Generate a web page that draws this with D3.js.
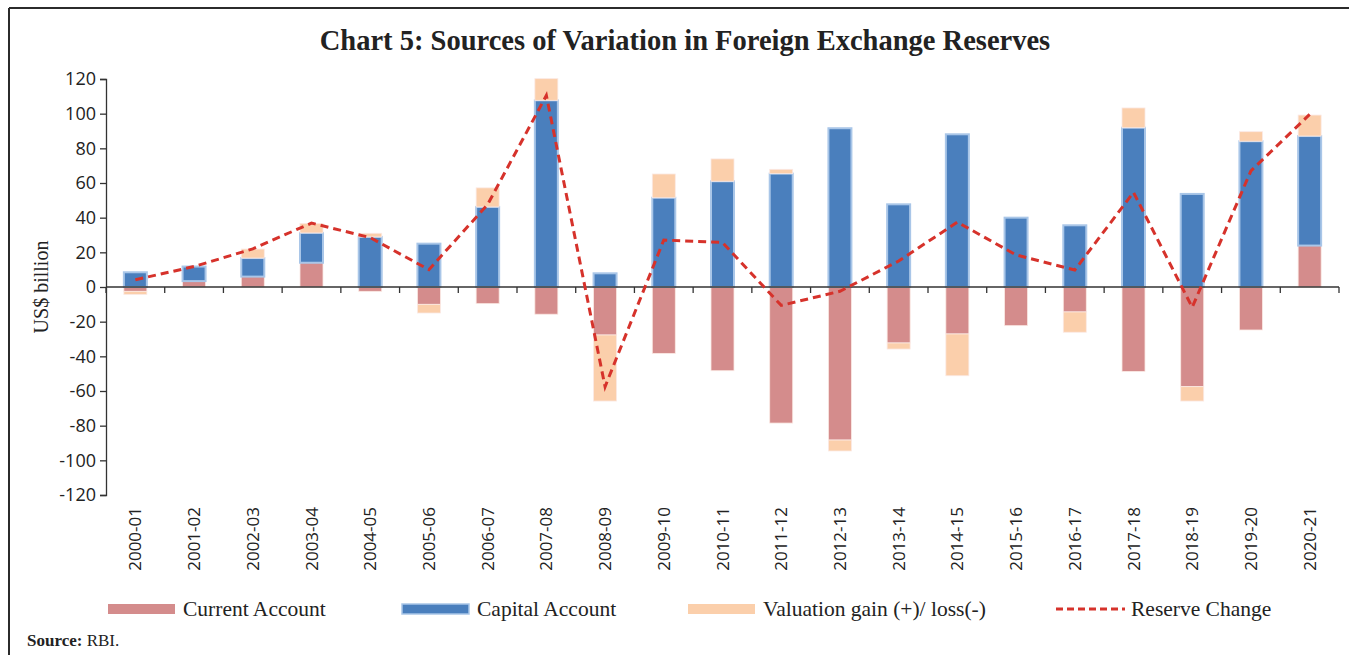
<!DOCTYPE html>
<html>
<head>
<meta charset="utf-8">
<script src="https://cdn.jsdelivr.net/npm/d3@7"></script>
<style>
  html, body { margin: 0; padding: 0; background: #fff; overflow: hidden; }
  svg { display: block; }
</style>
</head>
<body>
<div id="chart"></div>
<script>
// Chart 5: Sources of Variation in Foreign Exchange Reserves (US$ billion)
const years = ["2000-01", "2001-02", "2002-03", "2003-04", "2004-05", "2005-06", "2006-07",
    "2007-08", "2008-09", "2009-10", "2010-11", "2011-12", "2012-13", "2013-14", "2014-15",
    "2015-16", "2016-17", "2017-18", "2018-19", "2019-20", "2020-21"];
const currentAccount = [-2.5, 3.4, 6.0, 14.0, -2.5, -10.0, -9.6, -15.7, -27.7, -38.3, -48.3,
    -78.5, -88.3, -32.3, -27.1, -22.3, -14.4, -48.7, -57.5, -24.8, 23.9];
const capitalAccount = [8.5, 8.4, 10.7, 17.2, 28.9, 25.0, 46.2, 107.7, 7.9, 51.5, 61.0,
    65.4, 91.6, 47.7, 88.1, 40.0, 35.6, 91.9, 53.7, 84.1, 63.2];
const valuation = [-1.8, 0.0, 5.2, 5.5, 2.1, -5.0, 11.0, 12.5, -38.1, 13.7, 12.9,
    2.5, -6.3, -3.5, -24.1, 0.0, -11.7, 11.4, -8.3, 5.5, 12.1];
const reserveChange = [4.2, 11.8, 22.0, 36.9, 28.5, 10.0, 47.6, 110.5, -57.5, 27.1, 25.7,
    -10.6, -2.5, 15.0, 37.4, 18.5, 9.8, 54.6, -11.7, 67.0, 99.6];
const yTicks = [-120, -100, -80, -60, -40, -20, 0, 20, 40, 60, 80, 100, 120];

const width = 1349, height = 655;
const margin = { top: 79, right: 10, bottom: 160, left: 106 };
const innerWidth = 1339 - margin.left;
const innerHeight = 495 - margin.top;

const svg = d3.select("#chart").append("svg")
    .attr("width", width)
    .attr("height", height);

// frame lines (top + left)
svg.append("line").attr("x1", 9).attr("x2", width).attr("y1", 8).attr("y2", 8)
    .attr("stroke", "#2b2b2b").attr("stroke-width", 2);
svg.append("line").attr("x1", 9).attr("x2", 9).attr("y1", 8).attr("y2", height)
    .attr("stroke", "#2b2b2b").attr("stroke-width", 2);

// Title
svg.append("text")
    .attr("x", 685)
    .attr("y", 50)
    .attr("text-anchor", "middle")
    .attr("font-family", "'Liberation Serif', 'DejaVu Serif', serif")
    .attr("font-size", "28.5px")
    .attr("font-weight", "bold")
    .attr("fill", "#222")
    .text("Chart 5: Sources of Variation in Foreign Exchange Reserves");

const chart = svg.append("g")
    .attr("transform", `translate(${margin.left}, ${margin.top})`);

const x = d3.scaleBand().domain(years).range([0, innerWidth]).padding(0);
const y = d3.scaleLinear().domain([-120, 120]).range([innerHeight, 0]);

const keys = ["ca", "cap", "val"];
const color = d3.scaleOrdinal()
    .domain(keys)
    .range(["#d48c8c", "#4a7fbd", "#fbcfab"]);

const table = years.map((yr, i) => ({
    year: yr, ca: currentAccount[i], cap: capitalAccount[i], val: valuation[i]
}));
const stacked = d3.stack().keys(keys).offset(d3.stackOffsetDiverging)(table);

const barW = 23;

// Y axis (plain hyphen for negatives, like the original)
const yAxisG = chart.append("g")
    .call(d3.axisLeft(y).tickValues(yTicks).tickFormat(d => String(d)).tickSize(6).tickPadding(4));
yAxisG.select(".domain").attr("stroke", "#333").attr("stroke-width", 1.3);
yAxisG.selectAll(".tick line").attr("stroke", "#333").attr("stroke-width", 1.3);
yAxisG.selectAll(".tick text")
    .attr("font-family", "'Open Sans', sans-serif")
    .attr("font-size", "18px")
    .attr("fill", "#222");

// Bars
chart.append("g").selectAll("g")
    .data(stacked)
    .join("g")
    .attr("fill", d => color(d.key))
    .each(function (series) {
        d3.select(this).selectAll("rect")
            .data(series.filter(d => d[1] !== d[0]))
            .join("rect")
            .attr("x", d => x(d.data.year) + x.bandwidth() / 2 - barW / 2)
            .attr("y", d => y(Math.max(d[0], d[1])))
            .attr("width", barW)
            .attr("height", d => Math.abs(y(d[0]) - y(d[1])))
            .attr("stroke", series.key === "cap" ? "#a9c6e8" : "#fbe9e4")
            .attr("stroke-width", series.key === "cap" ? 2 : 0.8);
    });

// X axis (at zero)
const xAxisG = chart.append("g")
    .attr("transform", `translate(0, ${y(0)})`);
xAxisG.append("line")
    .attr("x1", 0).attr("x2", innerWidth)
    .attr("stroke", "#333").attr("stroke-width", 1.5);
xAxisG.selectAll(".xtick")
    .data(years.concat(["end"]))
    .join("line")
    .attr("class", "xtick")
    .attr("x1", (d, i) => i * x.step())
    .attr("x2", (d, i) => i * x.step())
    .attr("y1", 0).attr("y2", 6)
    .attr("stroke", "#333").attr("stroke-width", 1.3);

// Category labels at the bottom
chart.append("g").selectAll("text")
    .data(years)
    .join("text")
    .attr("transform", d => `translate(${x(d) + x.bandwidth() / 2 + 6}, ${innerHeight + 12}) rotate(-90)`)
    .attr("text-anchor", "end")
    .attr("font-family", "'Open Sans', sans-serif")
    .attr("font-size", "17px")
    .attr("fill", "#222")
    .text(d => d);

// Reserve change line
const line = d3.line()
    .x((d, i) => x(years[i]) + x.bandwidth() / 2)
    .y(d => y(d));
chart.append("path")
    .datum(reserveChange)
    .attr("d", line)
    .attr("fill", "none")
    .attr("stroke", "#d6322b")
    .attr("stroke-width", 3)
    .attr("stroke-dasharray", "8,5");

// Y axis title
svg.append("text")
    .attr("transform", `translate(48, ${margin.top + y(0)}) rotate(-90)`)
    .attr("text-anchor", "middle")
    .attr("font-family", "'Liberation Serif', serif")
    .attr("font-size", "20px")
    .attr("fill", "#222")
    .text("US$ billion");

// Legend
const legendItems = [
    { label: "Current Account", type: "rect", fill: "#d48c8c", x: 108 },
    { label: "Capital Account", type: "rect", fill: "#4a7fbd", stroke: "#a9c6e8", x: 402 },
    { label: "Valuation gain (+)/ loss(-)", type: "rect", fill: "#fbcfab", x: 688 },
    { label: "Reserve Change", type: "line", x: 1056 }
];
const legend = svg.append("g").attr("transform", "translate(0, 609)");
legendItems.forEach(item => {
    const g = legend.append("g").attr("transform", `translate(${item.x}, 0)`);
    if (item.type === "rect") {
        g.append("rect")
            .attr("x", 0).attr("y", -5)
            .attr("width", 67).attr("height", 10)
            .attr("fill", item.fill)
            .attr("stroke", item.stroke || "none")
            .attr("stroke-width", item.stroke ? 1.5 : 0);
    } else {
        g.append("line")
            .attr("x1", 0).attr("x2", 69).attr("y1", 0).attr("y2", 0)
            .attr("stroke", "#d6322b").attr("stroke-width", 3)
            .attr("stroke-dasharray", "7,4");
    }
    g.append("text")
        .attr("x", 75)
        .attr("y", 7)
        .attr("font-family", "'Liberation Serif', serif")
        .attr("font-size", "21.5px")
        .attr("fill", "#222")
        .text(item.label);
});

// Source note
const src = svg.append("text")
    .attr("x", 27)
    .attr("y", 646)
    .attr("font-family", "'Liberation Serif', serif")
    .attr("font-size", "17px")
    .attr("fill", "#222");
src.append("tspan").attr("font-weight", "bold").text("Source: ");
src.append("tspan").text("RBI.");
</script>
</body>
</html>
